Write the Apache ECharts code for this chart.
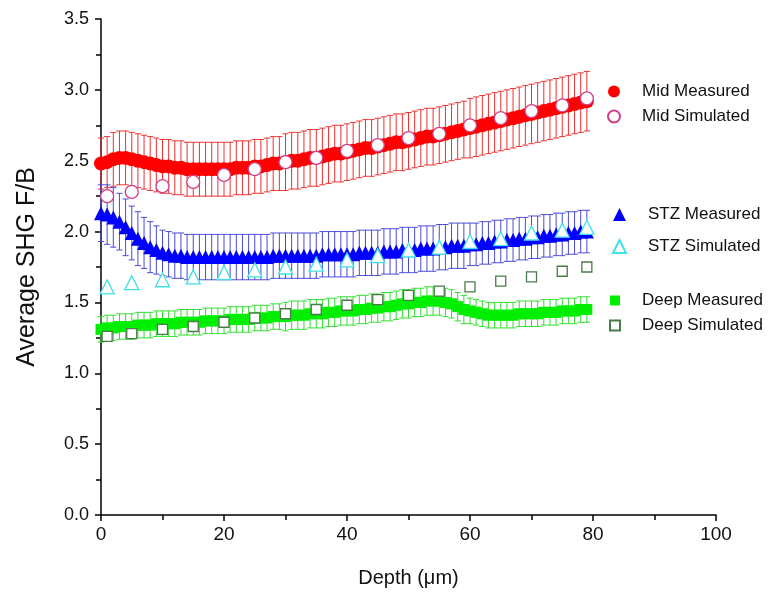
<!DOCTYPE html>
<html>
<head>
<meta charset="utf-8">
<script src="https://cdn.jsdelivr.net/npm/echarts@6/dist/echarts.min.js"></script>
<style>
html,body{margin:0;padding:0;background:#fff;}
#chart{width:778px;height:595px;}
</style>
</head>
<body>
<div id="chart"></div>
<script>
// ---- data ----
var depthMeasured = [0,1,2,3,4,5,6,7,8,9,10,11,12,13,14,15,16,17,18,19,20,21,22,23,24,25,26,27,28,29,30,31,32,33,34,35,36,37,38,39,40,41,42,43,44,45,46,47,48,49,50,51,52,53,54,55,56,57,58,59,60,61,62,63,64,65,66,67,68,69,70,71,72,73,74,75,76,77,78,79];
var depthSimulated = [1,5,10,15,20,25,30,35,40,45,50,55,60,65,70,75,79];

var midMeasured = [2.48,2.49,2.51,2.52,2.52,2.51,2.50,2.49,2.48,2.47,2.46,2.46,2.45,2.45,2.44,2.44,2.44,2.44,2.44,2.44,2.44,2.44,2.45,2.45,2.45,2.46,2.46,2.47,2.48,2.48,2.49,2.50,2.50,2.51,2.52,2.52,2.53,2.54,2.55,2.55,2.56,2.57,2.58,2.59,2.59,2.60,2.61,2.62,2.63,2.63,2.64,2.65,2.66,2.67,2.67,2.68,2.69,2.70,2.71,2.72,2.73,2.74,2.75,2.76,2.77,2.78,2.79,2.80,2.81,2.82,2.83,2.84,2.85,2.86,2.87,2.88,2.89,2.90,2.91,2.92];
var midError = [0.18,0.18,0.19,0.19,0.19,0.19,0.19,0.19,0.19,0.19,0.19,0.19,0.19,0.19,0.19,0.19,0.19,0.19,0.19,0.19,0.19,0.19,0.19,0.19,0.19,0.19,0.19,0.19,0.19,0.19,0.2,0.2,0.2,0.2,0.2,0.2,0.2,0.2,0.2,0.2,0.2,0.2,0.2,0.2,0.2,0.2,0.2,0.2,0.2,0.2,0.2,0.2,0.2,0.2,0.2,0.2,0.2,0.2,0.2,0.2,0.21,0.21,0.21,0.21,0.21,0.21,0.21,0.21,0.21,0.21,0.21,0.21,0.21,0.21,0.21,0.21,0.21,0.21,0.21,0.21];
var midSimulated = [2.25,2.28,2.32,2.35,2.40,2.44,2.49,2.52,2.57,2.61,2.66,2.69,2.75,2.80,2.85,2.89,2.94];

var stzMeasured = [2.13,2.12,2.10,2.07,2.03,1.99,1.95,1.92,1.89,1.87,1.85,1.84,1.83,1.83,1.82,1.82,1.82,1.82,1.82,1.82,1.82,1.82,1.82,1.82,1.82,1.82,1.82,1.82,1.83,1.83,1.83,1.83,1.83,1.83,1.83,1.83,1.84,1.84,1.84,1.84,1.84,1.84,1.85,1.85,1.85,1.85,1.86,1.86,1.86,1.87,1.87,1.87,1.88,1.88,1.88,1.89,1.89,1.90,1.90,1.90,1.91,1.91,1.92,1.92,1.93,1.93,1.94,1.94,1.95,1.95,1.96,1.96,1.97,1.97,1.98,1.98,1.99,1.99,2.00,2.00];
var stzError = [0.20,0.21,0.21,0.20,0.20,0.19,0.19,0.18,0.18,0.17,0.16,0.16,0.16,0.16,0.16,0.16,0.16,0.16,0.16,0.16,0.16,0.16,0.16,0.16,0.16,0.16,0.16,0.16,0.16,0.16,0.16,0.16,0.16,0.16,0.16,0.16,0.16,0.16,0.16,0.16,0.16,0.16,0.16,0.16,0.16,0.16,0.16,0.16,0.16,0.16,0.16,0.16,0.16,0.16,0.16,0.16,0.16,0.16,0.16,0.16,0.15,0.15,0.15,0.15,0.15,0.15,0.15,0.15,0.15,0.15,0.15,0.15,0.15,0.15,0.15,0.15,0.15,0.15,0.15,0.15];
var stzSimulated = [1.61,1.64,1.66,1.68,1.71,1.73,1.75,1.77,1.80,1.83,1.87,1.89,1.93,1.95,1.99,2.01,2.03];

var deepMeasured = [1.31,1.32,1.32,1.33,1.33,1.33,1.34,1.34,1.34,1.35,1.35,1.35,1.35,1.36,1.36,1.36,1.36,1.37,1.37,1.37,1.37,1.38,1.38,1.38,1.38,1.39,1.39,1.39,1.40,1.40,1.40,1.41,1.41,1.41,1.42,1.42,1.42,1.43,1.43,1.44,1.44,1.44,1.45,1.45,1.46,1.46,1.47,1.47,1.48,1.49,1.49,1.50,1.50,1.51,1.51,1.51,1.50,1.49,1.47,1.45,1.44,1.43,1.42,1.41,1.41,1.41,1.41,1.41,1.42,1.42,1.42,1.42,1.43,1.43,1.43,1.44,1.44,1.44,1.45,1.45];
var deepError = [0.09,0.09,0.09,0.09,0.09,0.09,0.09,0.09,0.09,0.09,0.09,0.09,0.09,0.09,0.09,0.09,0.09,0.09,0.09,0.09,0.09,0.09,0.09,0.09,0.09,0.09,0.09,0.09,0.09,0.09,0.1,0.1,0.1,0.1,0.1,0.1,0.1,0.1,0.1,0.1,0.1,0.1,0.1,0.1,0.1,0.1,0.1,0.1,0.1,0.1,0.1,0.1,0.1,0.1,0.1,0.1,0.1,0.1,0.1,0.1,0.09,0.09,0.09,0.09,0.09,0.09,0.09,0.09,0.09,0.09,0.09,0.09,0.09,0.09,0.09,0.09,0.09,0.09,0.09,0.09];
var deepSimulated = [1.26,1.28,1.31,1.33,1.36,1.39,1.42,1.45,1.48,1.52,1.55,1.58,1.61,1.65,1.68,1.72,1.75];

var xTicks = [0,20,40,60,80,100];
var yTicks = [0.0,0.5,1.0,1.5,2.0,2.5,3.0,3.5];

// ---- build ----
function pairs(xs, ys){ return xs.map(function(x,i){ return [x, ys[i]]; }); }
function errData(xs, ys, es){ return xs.map(function(x,i){ return [x, ys[i]-es[i], ys[i]+es[i]]; }); }
function errorSeries(name, data, color){
  return {
    type:'custom', name:name, silent:true, z:2,
    data:data,
    encode:{x:0, y:[1,2]},
    renderItem:function(params, api){
      var x = api.value(0);
      var lo = api.coord([x, api.value(1)]);
      var hi = api.coord([x, api.value(2)]);
      var hw = 3.1;
      var st = {stroke:color, lineWidth:1};
      return {type:'group', children:[
        {type:'line', shape:{x1:lo[0],y1:lo[1],x2:hi[0],y2:hi[1]}, style:st},
        {type:'line', shape:{x1:lo[0]-hw,y1:lo[1],x2:lo[0]+hw,y2:lo[1]}, style:st},
        {type:'line', shape:{x1:hi[0]-hw,y1:hi[1],x2:hi[0]+hw,y2:hi[1]}, style:st}
      ]};
    }
  };
}
var FONT = "'Liberation Sans', Arial, sans-serif";
var legText = {fontSize:17, fontFamily:FONT, color:'#111', padding:[0,0,0,17]};

var chart = echarts.init(document.getElementById('chart'));
chart.setOption({
  animation:false,
  backgroundColor:'#fff',
  grid:{left:101, right:62, top:19, bottom:80, containLabel:false},
  xAxis:{
    type:'value', min:0, max:100, interval:20,
    name:'Depth (\u03bcm)', nameLocation:'middle', nameGap:53,
    nameTextStyle:{fontSize:20, fontFamily:FONT, color:'#111'},
    axisLine:{lineStyle:{color:'#000', width:1.5}},
    axisTick:{show:true, length:6, inside:false, lineStyle:{color:'#000', width:1.5}},
    minorTick:{show:true, splitNumber:2, length:5, lineStyle:{color:'#000', width:1.5}},
    splitLine:{show:false},
    axisLabel:{fontSize:19, fontFamily:FONT, color:'#111', margin:10,
      formatter:function(v){ return xTicks.indexOf(v)>=0 ? String(v) : ''; }}
  },
  yAxis:{
    type:'value', min:0, max:3.5, interval:0.5,
    name:'Average SHG F/B', nameLocation:'middle', nameGap:61,
    nameTextStyle:{fontSize:25, fontFamily:FONT, color:'#111'},
    axisLine:{show:true, lineStyle:{color:'#000', width:1.5}},
    axisTick:{show:true, length:6, inside:false, lineStyle:{color:'#000', width:1.5}},
    minorTick:{show:true, splitNumber:2, length:5, lineStyle:{color:'#000', width:1.5}},
    splitLine:{show:false},
    axisLabel:{fontSize:18, fontFamily:FONT, color:'#111', margin:12,
      formatter:function(v){ return yTicks.indexOf(v)>=0 ? v.toFixed(1) : ''; }}
  },
  legend:[
    {orient:'vertical', left:602, top:78, itemGap:8, itemWidth:12, itemHeight:12, data:['Mid Measured','Mid Simulated'], textStyle:legText},
    {orient:'vertical', left:607, top:201, itemGap:15, itemWidth:13, itemHeight:13, data:['STZ Measured','STZ Simulated'], textStyle:legText},
    {orient:'vertical', left:604, top:287, itemGap:8, itemWidth:10, itemHeight:10, data:['Deep Measured','Deep Simulated'], textStyle:legText}
  ],
  series:[
    errorSeries('Mid err', errData(depthMeasured, midMeasured, midError), '#f03030'),
    errorSeries('STZ err', errData(depthMeasured, stzMeasured, stzError), '#4a4ad8'),
    errorSeries('Deep err', errData(depthMeasured, deepMeasured, deepError), '#30e030'),
    {type:'scatter', name:'Mid Measured', z:3, symbol:'circle', symbolSize:14, data:pairs(depthMeasured, midMeasured), itemStyle:{color:'#ff0000', opacity:1}},
    {type:'scatter', name:'STZ Measured', z:3, symbol:'triangle', symbolSize:14, data:pairs(depthMeasured, stzMeasured), itemStyle:{color:'#0000ff', opacity:1}},
    {type:'scatter', name:'Deep Measured', z:3, symbol:'rect', symbolSize:11, data:pairs(depthMeasured, deepMeasured), itemStyle:{color:'#00ee00', opacity:1}},
    {type:'scatter', name:'Mid Simulated', z:4, symbol:'circle', symbolSize:13, data:pairs(depthSimulated, midSimulated), itemStyle:{color:'#ffffff', borderColor:'#d0408a', borderWidth:1.3, opacity:1}},
    {type:'scatter', name:'STZ Simulated', z:4, symbol:'triangle', symbolSize:14, data:pairs(depthSimulated, stzSimulated), itemStyle:{color:'#ffffff', borderColor:'#40e0e8', borderWidth:1.3, opacity:1}},
    {type:'scatter', name:'Deep Simulated', z:4, symbol:'rect', symbolSize:10, data:pairs(depthSimulated, deepSimulated), itemStyle:{color:'#ffffff', borderColor:'#4a7a4a', borderWidth:1.3, opacity:1}}
  ]
});
</script>
</body>
</html>
